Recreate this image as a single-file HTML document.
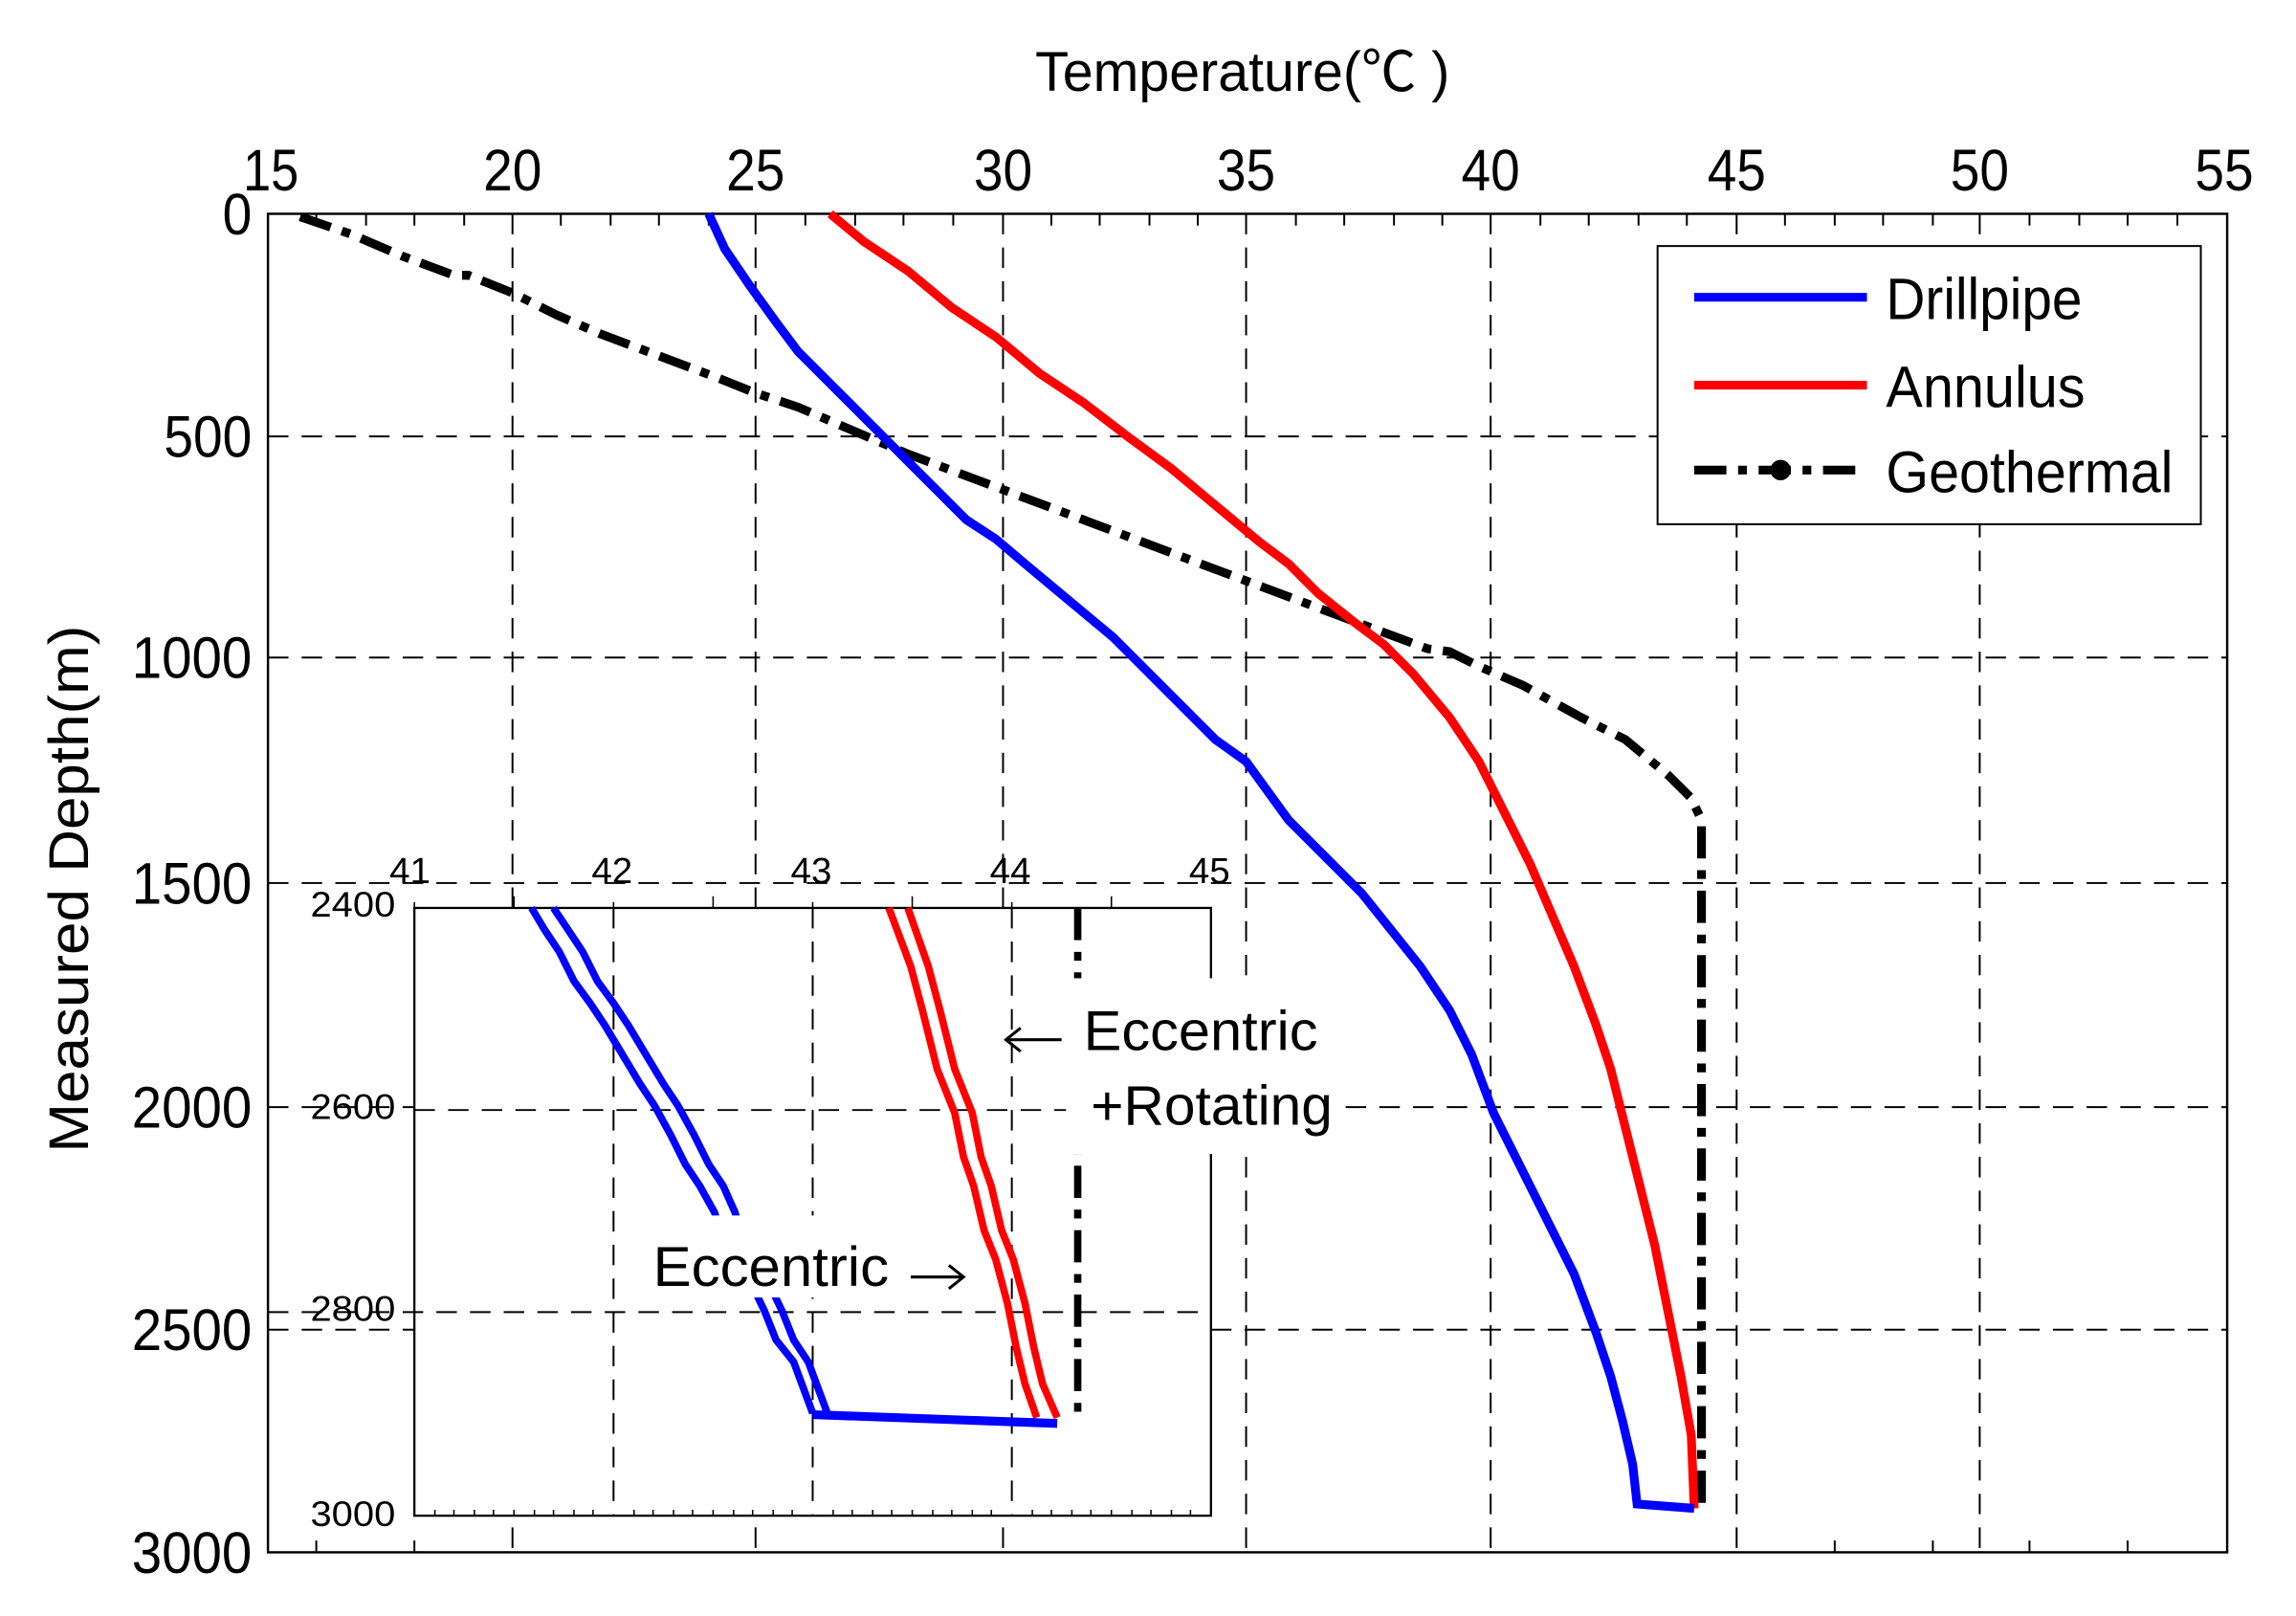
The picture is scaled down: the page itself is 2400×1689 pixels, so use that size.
<!DOCTYPE html>
<html><head><meta charset="utf-8"><style>
html,body{margin:0;padding:0;background:#fff;}
svg{display:block;}
text{font-family:"Liberation Sans","Noto Sans CJK SC",sans-serif;fill:#000;}
</style></head><body>
<svg width="2400" height="1689" viewBox="0 0 1568 1103.5" preserveAspectRatio="none" xmlns="http://www.w3.org/2000/svg">
<rect width="1568" height="1103.5" fill="#fff"/>
<g stroke="#000" stroke-width="1.3" stroke-dasharray="14,9" fill="none">
<line x1="350" y1="146" x2="350" y2="1060"/>
<line x1="516" y1="146" x2="516" y2="1060"/>
<line x1="685" y1="146" x2="685" y2="1060"/>
<line x1="851" y1="146" x2="851" y2="1060"/>
<line x1="1018" y1="146" x2="1018" y2="1060"/>
<line x1="1186" y1="146" x2="1186" y2="1060"/>
<line x1="1352" y1="146" x2="1352" y2="1060"/>
<line x1="183" y1="298" x2="1521" y2="298"/>
<line x1="183" y1="449" x2="1521" y2="449"/>
<line x1="183" y1="603" x2="1521" y2="603"/>
<line x1="183" y1="756" x2="1521" y2="756"/>
<line x1="183" y1="908" x2="1521" y2="908"/>
</g>
<g stroke="#000" stroke-width="1.3">
<path d="M216,146v8M250,146v8M283,146v8M317,146v8M383,146v8M417,146v8M450,146v8M484,146v8M550,146v8M584,146v8M617,146v8M651,146v8M718,146v8M751,146v8M785,146v8M818,146v8M885,146v8M918,146v8M952,146v8M985,146v8M1052,146v8M1085,146v8M1119,146v8M1152,146v8M1219,146v8M1253,146v8M1286,146v8M1320,146v8M1386,146v8M1420,146v8M1453,146v8M1487,146v8"/>
<path d="M216,1060v-8M283,1060v-8M1253,1060v-8M1320,1060v-8M1386,1060v-8M1453,1060v-8"/>
</g>
<rect x="183" y="146" width="1338" height="914" fill="none" stroke="#000" stroke-width="1.6"/>

<polyline fill="none" stroke="#000" stroke-width="6" stroke-dasharray="22,8,6,8" points="205,148 240,160 275,175 310,188 320,188 350,200 380,215 410,228 450,243 490,258 515,268 545,278 580,293 620,310 660,325 700,340 740,355 780,370 820,385 860,400 900,415 940,430 975,443 990,445 1010,455 1040,468 1080,490 1110,505 1140,530 1155,545 1162,560 1162,1030"/>
<polyline fill="none" stroke="#ff0000" stroke-width="6" points="567,146 590,165 620,185 650,210 680,230 710,255 740,275 770,298 800,320 830,345 860,370 880,385 900,405 925,425 945,440 965,460 990,490 1010,520 1025,550 1045,590 1060,625 1075,660 1090,700 1100,730 1110,770 1120,810 1130,850 1140,900 1148,940 1155,980 1157,1030"/>
<polyline fill="none" stroke="#0000ff" stroke-width="6" points="484,146 495,170 512,195 530,220 545,240 570,265 590,285 610,305 640,335 660,355 680,368 700,385 730,410 760,435 780,455 800,475 830,505 851,520 880,560 910,590 930,610 950,635 970,660 990,690 1005,720 1020,760 1040,800 1060,840 1075,870 1090,910 1100,940 1108,970 1115,1000 1118,1027 1157,1030"/>

<rect x="283" y="620" width="544" height="415" fill="#fff"/>
<g stroke="#000" stroke-width="1.3" stroke-dasharray="14,9" fill="none">
<line x1="419" y1="620" x2="419" y2="1035"/>
<line x1="555" y1="620" x2="555" y2="1035"/>
<line x1="691" y1="620" x2="691" y2="1035"/>
<line x1="283" y1="758" x2="827" y2="758"/>
<line x1="183" y1="896" x2="827" y2="896"/>
</g>
<g stroke="#000" stroke-width="1">
<path d="M297,1035v-4M310,1035v-4M324,1035v-4M337,1035v-4M351,1035v-4M365,1035v-4M378,1035v-4M392,1035v-4M405,1035v-4M433,1035v-4M446,1035v-4M460,1035v-4M473,1035v-4M487,1035v-4M501,1035v-4M514,1035v-4M528,1035v-4M541,1035v-4M569,1035v-4M582,1035v-4M596,1035v-4M609,1035v-4M623,1035v-4M637,1035v-4M650,1035v-4M664,1035v-4M677,1035v-4M705,1035v-4M718,1035v-4M732,1035v-4M745,1035v-4M759,1035v-4M773,1035v-4M786,1035v-4M800,1035v-4M813,1035v-4"/>
<path d="M283,620v-4M351,620v-8M419,620v-4M487,620v-8M555,620v-4M623,620v-8M691,620v-4M759,620v-8"/>
</g>
<rect x="283" y="620" width="544" height="415" fill="none" stroke="#000" stroke-width="1.5"/>
<line x1="736" y1="620" x2="736" y2="970" stroke="#000" stroke-width="5" stroke-dasharray="22,8,6,8"/>
<polyline fill="none" stroke="#ff0000" stroke-width="5" points="607,620 622,660 630,690 640,730 652,760 658,790 665,810 672,840 680,860 688,890 694,920 700,945 708,968"/>
<polyline fill="none" stroke="#ff0000" stroke-width="5" points="620,620 634,660 642,690 652,730 664,760 670,790 677,810 684,840 692,860 700,890 706,920 712,945 722,968"/>
<polyline fill="none" stroke="#0000ff" stroke-width="5" points="363,620 372,635 382,650 392,670 403,685 413,700 425,720 437,740 447,755 458,775 468,795 478,810 488,828 495,850 510,870 522,895 530,915 542,930 555,965"/>
<polyline fill="none" stroke="#0000ff" stroke-width="5" points="378,620 388,635 398,650 408,670 419,685 429,700 441,720 453,740 463,755 474,775 484,795 494,810 502,828 508,850 522,870 534,895 542,915 552,930 565,965"/>
<polyline fill="none" stroke="#0000ff" stroke-width="6" points="555,966 722,972"/>
<rect x="728" y="668" width="184" height="120" fill="#fff"/>
<rect x="436" y="830" width="226" height="56" fill="#fff"/>
<text x="740" y="717" font-size="38" textLength="160" lengthAdjust="spacingAndGlyphs">Eccentric</text>
<text x="745" y="768" font-size="38" textLength="165" lengthAdjust="spacingAndGlyphs">+Rotating</text>
<text x="446" y="878" font-size="38" textLength="161" lengthAdjust="spacingAndGlyphs">Eccentric</text>
<path d="M725,710h-38M697,702l-10,8l10,8" fill="none" stroke="#000" stroke-width="2"/>
<path d="M622,872h36M648,864l10,8l-10,8" fill="none" stroke="#000" stroke-width="2"/>

<g font-size="25">
<text x="266" y="603" textLength="28" lengthAdjust="spacingAndGlyphs">41</text>
<text x="404" y="603" textLength="28" lengthAdjust="spacingAndGlyphs">42</text>
<text x="540" y="603" textLength="28" lengthAdjust="spacingAndGlyphs">43</text>
<text x="676" y="603" textLength="28" lengthAdjust="spacingAndGlyphs">44</text>
<text x="812" y="603" textLength="28" lengthAdjust="spacingAndGlyphs">45</text>
</g>
<g font-size="24" text-anchor="end">
<text x="270" y="626" textLength="58" lengthAdjust="spacingAndGlyphs">2400</text>
<text x="270" y="764" textLength="58" lengthAdjust="spacingAndGlyphs">2600</text>
<text x="270" y="902" textLength="58" lengthAdjust="spacingAndGlyphs">2800</text>
<text x="270" y="1042" textLength="58" lengthAdjust="spacingAndGlyphs">3000</text>
</g>

<g font-size="40" text-anchor="middle">
<text x="185" y="130" textLength="38" lengthAdjust="spacingAndGlyphs">15</text>
<text x="350" y="130" textLength="40" lengthAdjust="spacingAndGlyphs">20</text>
<text x="516" y="130" textLength="40" lengthAdjust="spacingAndGlyphs">25</text>
<text x="685" y="130" textLength="40" lengthAdjust="spacingAndGlyphs">30</text>
<text x="851" y="130" textLength="40" lengthAdjust="spacingAndGlyphs">35</text>
<text x="1018" y="130" textLength="40" lengthAdjust="spacingAndGlyphs">40</text>
<text x="1186" y="130" textLength="40" lengthAdjust="spacingAndGlyphs">45</text>
<text x="1352" y="130" textLength="40" lengthAdjust="spacingAndGlyphs">50</text>
<text x="1519" y="130" textLength="40" lengthAdjust="spacingAndGlyphs">55</text>
</g>
<g font-size="40" text-anchor="end">
<text x="172" y="160" textLength="20" lengthAdjust="spacingAndGlyphs">0</text>
<text x="172" y="312" textLength="60" lengthAdjust="spacingAndGlyphs">500</text>
<text x="172" y="463" textLength="82" lengthAdjust="spacingAndGlyphs">1000</text>
<text x="172" y="617" textLength="82" lengthAdjust="spacingAndGlyphs">1500</text>
<text x="172" y="770" textLength="82" lengthAdjust="spacingAndGlyphs">2000</text>
<text x="172" y="922" textLength="82" lengthAdjust="spacingAndGlyphs">2500</text>
<text x="172" y="1074" textLength="82" lengthAdjust="spacingAndGlyphs">3000</text>
</g>
<text x="707" y="62" font-size="38" textLength="283" lengthAdjust="spacingAndGlyphs">Temperature(℃ )</text>
<text transform="translate(60,787) rotate(-90)" font-size="38" textLength="360" lengthAdjust="spacingAndGlyphs">Measured Depth(m)</text>

<rect x="1132" y="168" width="371" height="190" fill="#fff" stroke="#000" stroke-width="1.3"/>
<line x1="1157" y1="203" x2="1275" y2="203" stroke="#0000ff" stroke-width="6"/>
<line x1="1157" y1="263" x2="1275" y2="263" stroke="#ff0000" stroke-width="6"/>
<line x1="1157" y1="321" x2="1275" y2="321" stroke="#000" stroke-width="6" stroke-dasharray="22,8,6,8"/>
<circle cx="1216" cy="321" r="7" fill="#000"/>
<g font-size="40">
<text x="1288" y="218" textLength="134" lengthAdjust="spacingAndGlyphs">Drillpipe</text>
<text x="1288" y="278" textLength="136" lengthAdjust="spacingAndGlyphs">Annulus</text>
<text x="1288" y="336" textLength="196" lengthAdjust="spacingAndGlyphs">Geothermal</text>
</g>
</svg>
</body></html>
